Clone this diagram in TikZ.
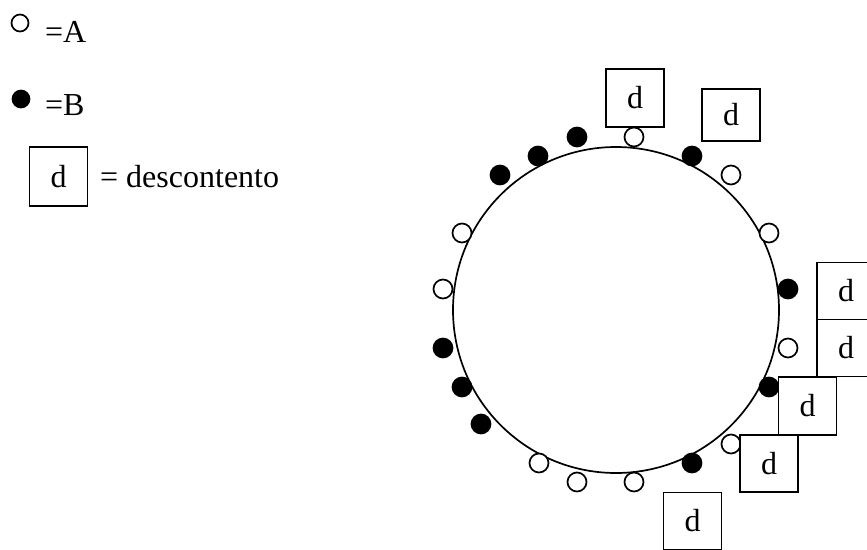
\documentclass[tikz,border=0pt]{standalone}
\usepackage{fontspec}
\setmainfont{Liberation Serif}
\begin{document}
\begin{tikzpicture}[x=1pt,y=-1pt,
  dot/.style={circle,draw,line width=1.7pt,minimum size=19pt,inner sep=0pt,fill=white},
  adot/.style={dot},
  bdot/.style={dot,fill=black},
  dbox/.style={draw,line width=1.7pt,fill=white,minimum width=58pt,minimum height=57pt,inner sep=0pt,font=\fontsize{32}{36}\selectfont},
  lbl/.style={anchor=base west,inner sep=0pt,font=\fontsize{32}{36}\selectfont}]
\useasboundingbox (0,0) rectangle (867,549);
\clip (0,0) rectangle (867,549);
% legend
\node[adot,minimum size=17pt] (la) at (20,23) {};
\node[lbl] (lat) at (45,42) {=A};
\node[bdot,minimum size=17pt] (lb) at (21,99) {};
\node[lbl] (lbt) at (45,115) {=B};
\node[dbox,minimum height=59pt] (ld) at (58.5,176.5) {d};
\node[lbl] (ldt) at (100,187) {= descontento};
% ring
\node[circle,draw,line width=1.7pt,minimum size=326pt,inner sep=0pt] (ring) at (616,310) {};
% dots
\node[adot] (c1) at (634,137) {};
\node[bdot] (c2) at (577,137) {};
\node[bdot] (c3) at (538,156) {};
\node[bdot] (c4) at (500,175) {};
\node[bdot] (c5) at (692,156) {};
\node[adot] (c6) at (731,175) {};
\node[adot] (c7) at (462,233) {};
\node[adot] (c8) at (769,233) {};
\node[adot] (c9) at (443,289) {};
\node[bdot] (c10) at (788,289) {};
\node[bdot] (c11) at (443,348) {};
\node[adot] (c12) at (788,348) {};
\node[bdot] (c13) at (462,387) {};
\node[bdot] (c14) at (769,387) {};
\node[bdot] (c15) at (481,424) {};
\node[adot] (c16) at (539,463) {};
\node[adot] (c17) at (577,482) {};
\node[adot] (c18) at (634,482) {};
\node[bdot] (c19) at (692,463) {};
\node[adot] (c20) at (731,444) {};
% boxes
\node[dbox,minimum height=58pt] (d1) at (635,98) {d};
\node[dbox,minimum height=52pt] (d2) at (731,115) {d};
\node[dbox] (d3) at (846,291) {d};
\node[dbox] (d4) at (846,348) {d};
\node[dbox,minimum height=58pt] (d5) at (807.5,406) {d};
\node[dbox] (d6) at (769,463.5) {d};
\node[dbox] (d7) at (692.5,521) {d};
\end{tikzpicture}
\end{document}
